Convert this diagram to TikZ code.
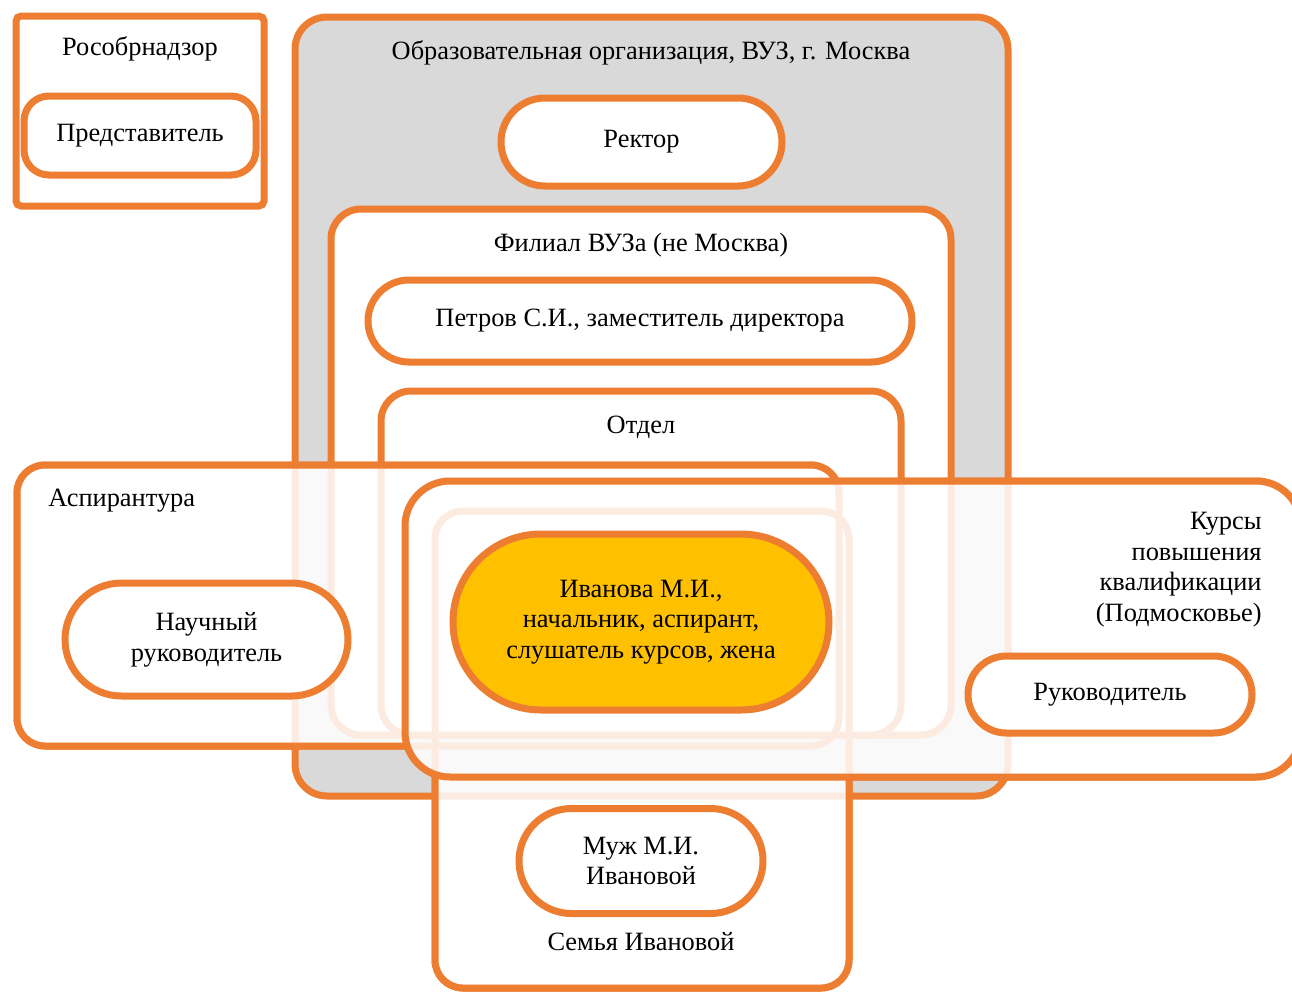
\documentclass[tikz,border=0pt]{standalone}
\usepackage{fontspec}
\setmainfont{Liberation Serif}
\usetikzlibrary{shapes.misc}
\definecolor{accent}{HTML}{ED7D31}
\definecolor{panel}{HTML}{D9D9D9}
\definecolor{focus}{HTML}{FFC000}
\begin{document}
\begin{tikzpicture}[x=0.5pt,y=-0.5pt,
  every node/.style={font=\fontsize{13.2}{15.3}\selectfont, text=black},
  boxframe/.style={draw=accent, line width=3.5pt, rectangle, inner sep=0pt, outer sep=0pt, align=center},
  pill/.style={draw=accent, line width=3.5pt, rounded rectangle, fill=white, inner sep=0pt, outer sep=0pt, align=center},
  titletext/.style={inner sep=0pt, align=center},
  edge/.style={draw=accent, line width=3.5pt}]
\useasboundingbox (0,0) rectangle (1292,993);

% Rosobrnadzor with its representative
\node[boxframe, rounded corners=2.5pt, minimum width=124pt, minimum height=95pt] (rosobr) at (140,111) {};
\node[titletext] (rosobrT) at (140,49) {Рособрнадзор};
\node[boxframe, fill=white, rounded corners=12.5pt, minimum width=116pt, minimum height=39.5pt] (predst) at (140,135.5) {Представитель};

% University, branch and department
\node[boxframe, fill=panel, rounded corners=16pt, minimum width=356.5pt, minimum height=389.5pt] (vuz) at (651.5,406.5) {};
\node[titletext] (vuzT) at (651,53) {Образовательная организация, ВУЗ, г. Москва};
\node[pill, minimum width=140.5pt, minimum height=44pt] (rektor) at (641.5,142) {Ректор};

\node[boxframe, fill=white, rounded corners=15pt, minimum width=310pt, minimum height=263pt] (filial) at (641,472) {};
\node[titletext] (filialT) at (641,245) {Филиал ВУЗа (не Москва)};
\node[pill, minimum width=272pt, minimum height=41pt] (petrov) at (640,321) {Петров С.И., заместитель директора};

\node[boxframe, fill=white, rounded corners=15pt, minimum width=260pt, minimum height=172pt] (otdel) at (641,563) {};
\node[titletext] (otdelT) at (641,427) {Отдел};

% Family, postgraduate school and courses
\node[boxframe, rounded corners=14pt, minimum width=207pt, minimum height=238.5pt] (semya) at (642,749.5) {};
\node[boxframe, rounded corners=14pt, minimum width=411pt, minimum height=140.5pt] (asp) at (428,605.5) {};
\node[boxframe, rounded corners=22.5pt, minimum width=448pt, minimum height=148pt] (kursy) at (853,629) {};

% translucent white veil over the three overlapping frames
\fill[white, fill opacity=0.85]
  [rounded corners=14pt] (asp.south west) rectangle (asp.north east)
  (semya.south west) rectangle (semya.north east)
  [rounded corners=22.5pt] (kursy.south west) rectangle (kursy.north east);

% frame outlines outside the courses frame stay solid
\begin{scope}
  \clip (-100,-100) rectangle (1400,1100)
    [rounded corners=22.5pt] (kursy.south west) rectangle (kursy.north east);
  \draw[edge, rounded corners=14pt]
    (asp.south west) rectangle (asp.north east)
    (semya.south west) rectangle (semya.north east);
\end{scope}
\draw[edge, rounded corners=22.5pt] (kursy.south west) rectangle (kursy.north east);

\node[titletext, anchor=west] (aspT) at (48,501) {Аспирантура};
\node[titletext, anchor=north east, align=right] (kursyT) at (1262,512)
  {Курсы\\повышения\\квалификации\\(Подмосковье)};
\node[titletext] (semyaT) at (641,942) {Семья Ивановой};

% people
\node[pill, minimum width=141.5pt, minimum height=56.5pt] (nauch) at (206.5,639.5) {Научный\\руководитель};
\node[pill, fill=focus, minimum width=188pt, minimum height=88pt] (ivanova) at (641,622)
  {Иванова М.И.,\\начальник, аспирант,\\слушатель курсов, жена};
\node[pill, minimum width=142pt, minimum height=38.5pt] (rukov) at (1110,694.5) {Руководитель};
\node[pill, minimum width=122pt, minimum height=52.5pt] (muzh) at (641,861) {Муж М.И.\\Ивановой};
\end{tikzpicture}
\end{document}
